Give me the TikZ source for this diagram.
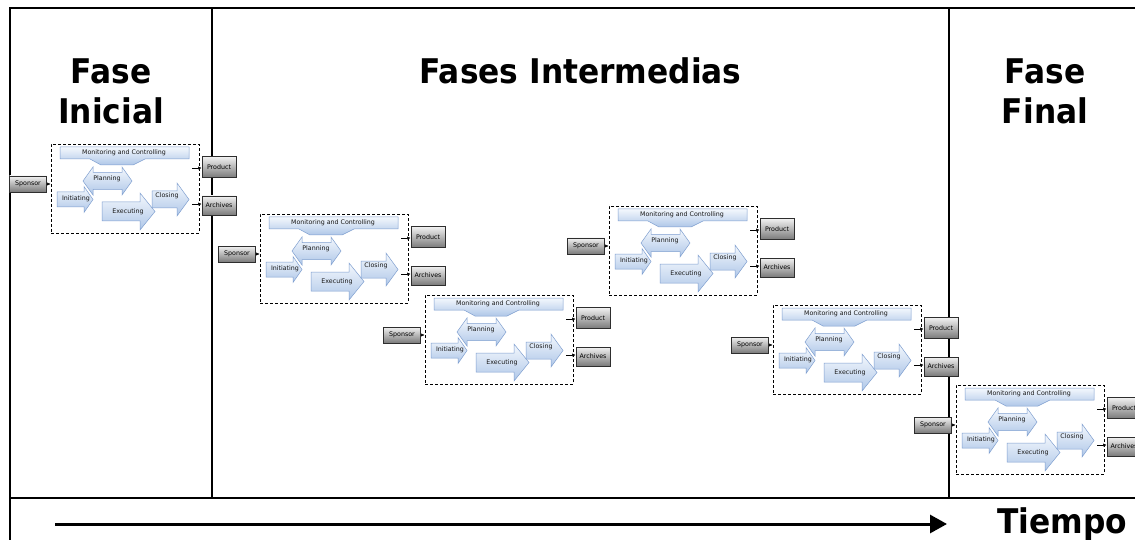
\documentclass[tikz,border=0pt]{standalone}
\usepackage{fontspec}
\setmainfont{DejaVu Sans}
\newfontfamily\titlefont[FakeStretch=0.92]{DejaVu Sans}
\usetikzlibrary{arrows.meta}
\definecolor{arrtop}{HTML}{F4F8FD}
\definecolor{arrbot}{HTML}{AFC7E8}
\definecolor{arredge}{HTML}{7F9FD0}
\definecolor{boxtop}{HTML}{F2F2F2}
\definecolor{boxbot}{HTML}{7A7A7A}
\definecolor{boxedge}{HTML}{2E2E2E}
\newcommand\rblk[6]{%
  \path[barr] (#1,{#3-#4/2}) -- ({#2-#6},{#3-#4/2}) -- ({#2-#6},{#3-#5/2}) -- (#2,#3) -- ({#2-#6},{#3+#5/2}) -- ({#2-#6},{#3+#4/2}) -- (#1,{#3+#4/2}) -- cycle;}
\newcommand\dblk[6]{%
  \path[barr] ({#1+#6},{#3-#4/2}) -- ({#2-#6},{#3-#4/2}) -- ({#2-#6},{#3-#5/2}) -- (#2,#3) -- ({#2-#6},{#3+#5/2}) -- ({#2-#6},{#3+#4/2}) -- ({#1+#6},{#3+#4/2}) -- ({#1+#6},{#3+#5/2}) -- (#1,#3) -- ({#1+#6},{#3-#5/2}) -- cycle;}
\tikzset{
  frame/.style={line width=1.3pt, black},
  titletxt/.style={font=\titlefont\bfseries\fontsize{34}{40}\selectfont, inner sep=0pt, align=center},
  stxt/.style={font=\fontsize{6.3}{7}\selectfont, inner sep=0pt, text=black!90},
  barr/.style={top color=arrtop, bottom color=arrbot, draw=arredge, line width=0.5pt},
  gbox/.style={draw=boxedge, line width=0.6pt, top color=boxtop, bottom color=boxbot, inner sep=0pt, minimum width=34pt, minimum height=20pt, font=\fontsize{6.3}{7}\selectfont},
  dbox/.style={draw=black, densely dashed, line width=0.6pt, minimum width=148pt, minimum height=89pt, inner sep=0pt},
  conn/.style={-{Latex[length=3.5pt,width=3pt]}, line width=0.5pt, black},
  pgroup/.pic={
    \node[dbox] (-box) at (74,44.5) {};
    \path[barr] (9,3) -- (138,3) -- (138,15) -- (94,15) -- (82,21) -- (50,21) -- (39,15) -- (9,15) -- cycle;
    \node[stxt] (-mc) at (73,9) {Monitoring and Controlling};
    \dblk{32}{81}{37}{17}{28}{10}
    \node[stxt] (-pl) at (56,35) {Planning};
    \rblk{6}{42}{55.5}{15}{26}{9}
    \node[stxt] (-in) at (25,55) {Initiating};
    \rblk{51}{104}{67.5}{19}{37}{15}
    \node[stxt] (-ex) at (77,68) {Executing};
    \rblk{101}{138}{55.5}{17}{33}{12}
    \node[stxt] (-cl) at (116,52) {Closing};
    \node[gbox, minimum width=37pt, minimum height=16pt] (-sp) at (-23,40) {Sponsor};
    \node[gbox, minimum height=21pt] (-pr) at (168,23) {Product};
    \node[gbox, minimum height=19pt] (-ar) at (168,61.5) {Archives};
    \coordinate (-o1) at (141,24);
    \coordinate (-o2) at (141,60);
    \draw[conn] (-sp.east) -- (-box.west |- -sp.east);
    \draw[conn] (-o1) -- (-pr.west |- -o1);
    \draw[conn] (-o2) -- (-ar.west |- -o2);
  }
}
\begin{document}
\begin{tikzpicture}[x=1pt,y=-1pt]
\useasboundingbox (0,0) rectangle (1135,540);
\fill[white] (0,0) rectangle (1135,540);
% frame
\coordinate (tl) at (10,8);
\coordinate (tr) at (1135,8);
\coordinate (bl) at (10,540);
\coordinate (ml) at (10,498);
\coordinate (mr) at (1135,498);
\coordinate (v1t) at (212,8);
\coordinate (v1b) at (212,498);
\coordinate (v2t) at (949,8);
\coordinate (v2b) at (949,498);
\draw[frame] (tr) -- (tl) -- (bl);
\draw[frame] (ml) -- (mr);
\draw[frame] (v1t) -- (v1b);
\draw[frame] (v2t) -- (v2b);
% titles
\node[titletxt] (t1) at (111,91.5) {Fase\\Inicial};
\node[titletxt, anchor=base] (t2) at (580.5,84) {Fases Intermedias};
\node[titletxt] (t3) at (1045,91.5) {Fase\\Final};
\node[titletxt, anchor=base west] (t4) at (997,533) {Tiempo};
% time arrow
\coordinate (a0) at (55,524);
\coordinate (a1) at (947,524);
\draw[line width=3pt, -{Triangle[length=17pt,width=18pt]}] (a0) -- (a1);
% process groups
\pic (b1) at (51,144) {pgroup};
\pic (b2) at (260,214) {pgroup};
\pic (b3) at (425,295) {pgroup};
\pic (b4) at (609,206) {pgroup};
\pic (b5) at (773,305) {pgroup};
\pic (b6) at (956,385) {pgroup};
\end{tikzpicture}
\end{document}
